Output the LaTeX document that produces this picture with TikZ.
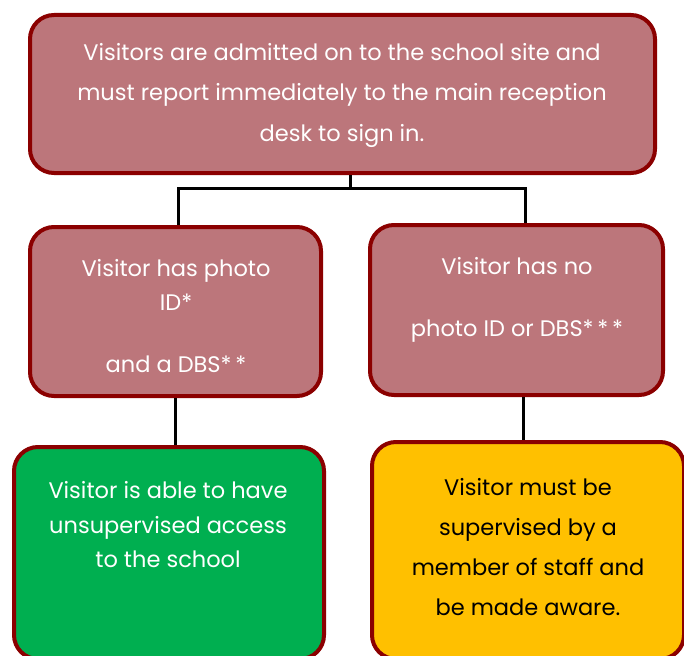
\documentclass[tikz,border=0pt]{standalone}
\usepackage{fontspec}
\setmainfont{Poppins}
\definecolor{boxedge}{HTML}{8B0000}
\definecolor{rosefill}{HTML}{BC767B}
\definecolor{greenfill}{HTML}{00AF50}
\definecolor{amberfill}{HTML}{FFC000}
\tikzset{
  flowbox/.style={draw=boxedge, line width=4pt, rounded corners=24pt, inner sep=0pt},
  boxtext/.style={align=center, inner sep=0pt, font=\fontsize{22.5}{#1}\selectfont},
  link/.style={draw=black, line width=3pt}
}
\begin{document}
\begin{tikzpicture}[x=1pt, y=-1pt]
\useasboundingbox (0,0) rectangle (684,655);
% boxes
\node[flowbox, fill=rosefill, minimum width=625pt, minimum height=158pt] (top) at (342.5,94) {};
\node[flowbox, fill=rosefill, minimum width=291pt, minimum height=169pt] (ml) at (175.5,311.5) {};
\node[flowbox, fill=rosefill, minimum width=293pt, minimum height=170pt] (mr) at (516.5,310) {};
\node[flowbox, fill=greenfill, minimum width=310pt, minimum height=212pt] (bl) at (169,553) {};
\node[flowbox, fill=amberfill, minimum width=312pt, minimum height=217pt] (br) at (528,550.5) {};
% texts
\node[boxtext=40.5pt, text=white] (toptext) at (342,95) {Visitors are admitted on to the school site and\\must report immediately to the main reception\\desk to sign in.};
\node[boxtext=34pt, text=white] (mltext) at (176,316) {Visitor has photo\\ID*\\[28pt]and a DBS*\,*};
\node[boxtext=62pt, text=white] (mrtext) at (517,300) {Visitor has no\\photo ID or DBS*\,*\,*};
\node[boxtext=34.5pt, text=white] (bltext) at (168,525) {Visitor is able to have\\unsupervised access\\to the school};
\node[boxtext=40.3pt, text=black] (brtext) at (528,547) {Visitor must be\\supervised by a\\member of staff and\\be made aware.};
% connectors
\coordinate (j) at (350,188);
\coordinate (jl) at (178,188);
\coordinate (jr) at (525,188);
\coordinate (dl) at (175,0);
\coordinate (dr) at (523,0);
\draw[link] (j |- top.south) -- (j);
\draw[link] (ml.north -| jl) -- (jl) -- (jr) -- (mr.north -| jr);
\draw[link] (ml.south -| dl) -- (bl.north -| dl);
\draw[link] (mr.south -| dr) -- (br.north -| dr);
\end{tikzpicture}
\end{document}
